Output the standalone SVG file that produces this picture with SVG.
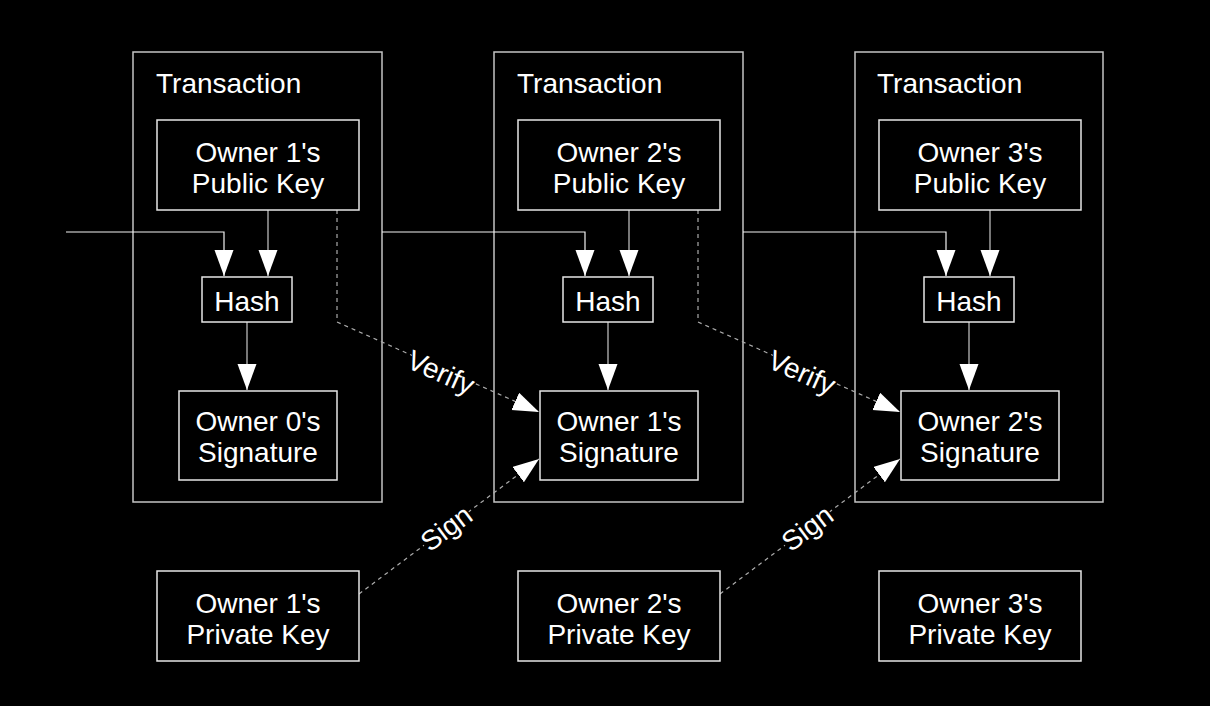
<svg xmlns="http://www.w3.org/2000/svg" width="1210" height="706" viewBox="0 0 1210 706">
<style>
text{font-family:"Liberation Sans",Arial,sans-serif;font-size:28px;fill:#fff}
.c{text-anchor:middle}
.tx{fill:none;stroke:#c4c4c4;stroke-width:1.5}
.bx{fill:#000;stroke:#e6e6e6;stroke-width:1.5}
.ln{fill:none;stroke:#c8c8c8;stroke-width:1.2}
.in{fill:none;stroke:#f2f2f2;stroke-width:1.2}
.ds{fill:none;stroke:#aaa;stroke-width:1.2;stroke-dasharray:4 4}
</style>
<defs>
<marker id="ah" markerUnits="userSpaceOnUse" markerWidth="27" markerHeight="20" refX="26" refY="9.5" orient="auto">
<path d="M0,0 L26,9.5 L0,19 Z" fill="#fff"/>
</marker>
</defs>
<rect width="1210" height="706" fill="#000"/>
<g id="tx1"><rect class="tx" x="133" y="52" width="249" height="450"/><text x="156" y="93">Transaction</text></g>
<g id="tx2"><rect class="tx" x="494" y="52" width="249" height="450"/><text x="517" y="93">Transaction</text></g>
<g id="tx3"><rect class="tx" x="855" y="52" width="248" height="450"/><text x="877" y="93">Transaction</text></g>
<g id="connectors">
<path class="in" d="M66,232 H224 V276" marker-end="url(#ah)"/>
<path class="ln" d="M268,210 V276" marker-end="url(#ah)"/>
<path class="ln" d="M247,322 V390" marker-end="url(#ah)"/>
<path class="in" d="M382,232 H585 V276" marker-end="url(#ah)"/>
<path class="ln" d="M629,210 V276" marker-end="url(#ah)"/>
<path class="ln" d="M608,322 V390" marker-end="url(#ah)"/>
<path class="in" d="M743,232 H946 V276" marker-end="url(#ah)"/>
<path class="ln" d="M990,210 V276" marker-end="url(#ah)"/>
<path class="ln" d="M969,322 V390" marker-end="url(#ah)"/>
<path class="ds" d="M337,210 V322 L539,412" marker-end="url(#ah)"/>
<path class="ds" d="M698,210 V322 L900,412" marker-end="url(#ah)"/>
<path class="ds" d="M359,594 L539,459" marker-end="url(#ah)"/>
<path class="ds" d="M720,594 L900,459" marker-end="url(#ah)"/>
<rect x="410" y="350" width="66" height="34" fill="#000" transform="rotate(24 443 367)"/>
<text class="c" x="441" y="382" transform="rotate(24 441 372)">Verify</text>
<rect x="771" y="350" width="66" height="34" fill="#000" transform="rotate(24 804 367)"/>
<text class="c" x="802" y="382" transform="rotate(24 802 372)">Verify</text>
<rect x="418" y="512" width="56" height="32" fill="#000" transform="rotate(-37 446 528)"/>
<text class="c" x="446" y="538" transform="rotate(-37 446 528)">Sign</text>
<rect x="779" y="512" width="56" height="32" fill="#000" transform="rotate(-37 807 528)"/>
<text class="c" x="807" y="538" transform="rotate(-37 807 528)">Sign</text>
</g>
<g id="pub1"><rect class="bx" x="157" y="120" width="202" height="90"/><text class="c" x="258" y="162">Owner 1's</text><text class="c" x="258" y="193">Public Key</text></g>
<g id="pub2"><rect class="bx" x="518" y="120" width="202" height="90"/><text class="c" x="619" y="162">Owner 2's</text><text class="c" x="619" y="193">Public Key</text></g>
<g id="pub3"><rect class="bx" x="879" y="120" width="202" height="90"/><text class="c" x="980" y="162">Owner 3's</text><text class="c" x="980" y="193">Public Key</text></g>
<g id="hash1"><rect class="bx" x="202" y="277" width="90" height="45"/><text class="c" x="247" y="311">Hash</text></g>
<g id="hash2"><rect class="bx" x="563" y="277" width="90" height="45"/><text class="c" x="608" y="311">Hash</text></g>
<g id="hash3"><rect class="bx" x="924" y="277" width="90" height="45"/><text class="c" x="969" y="311">Hash</text></g>
<g id="sig1"><rect class="bx" x="179" y="391" width="158" height="89"/><text class="c" x="258" y="431">Owner 0's</text><text class="c" x="258" y="462">Signature</text></g>
<g id="sig2"><rect class="bx" x="540" y="391" width="158" height="89"/><text class="c" x="619" y="431">Owner 1's</text><text class="c" x="619" y="462">Signature</text></g>
<g id="sig3"><rect class="bx" x="901" y="391" width="158" height="89"/><text class="c" x="980" y="431">Owner 2's</text><text class="c" x="980" y="462">Signature</text></g>
<g id="priv1"><rect class="bx" x="157" y="571" width="202" height="90"/><text class="c" x="258" y="613">Owner 1's</text><text class="c" x="258" y="644">Private Key</text></g>
<g id="priv2"><rect class="bx" x="518" y="571" width="202" height="90"/><text class="c" x="619" y="613">Owner 2's</text><text class="c" x="619" y="644">Private Key</text></g>
<g id="priv3"><rect class="bx" x="879" y="571" width="202" height="90"/><text class="c" x="980" y="613">Owner 3's</text><text class="c" x="980" y="644">Private Key</text></g>
</svg>
